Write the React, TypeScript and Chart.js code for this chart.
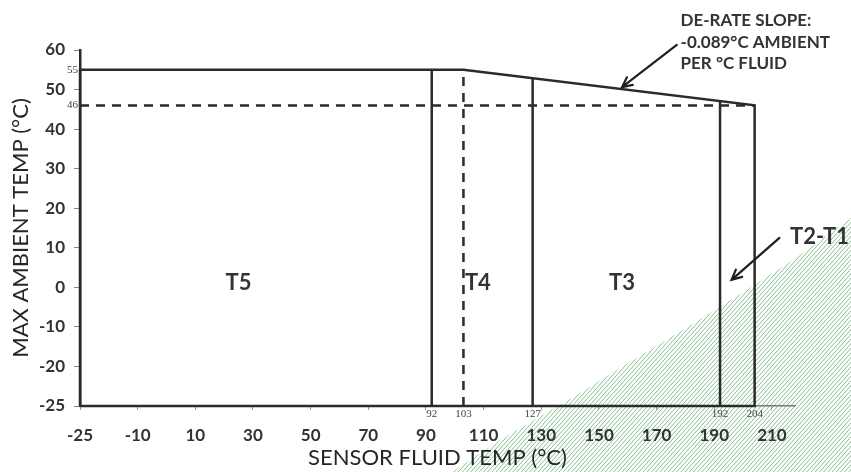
import React, { useEffect, useRef } from 'react';
import { Chart, registerables } from 'chart.js';

Chart.register(...registerables);

// ---- axes (the first tick of each axis is printed as "-25" in the source)
const X_AXIS_MIN = -30;
const X_AXIS_MAX = 218;
const Y_AXIS_MIN = -30;
const Y_AXIS_MAX = 60;
const xTickValues = [-30, -10, 10, 30, 50, 70, 90, 110, 130, 150, 170, 190, 210];
const xTickLabels = ['-25', '-10', '10', '30', '50', '70', '90', '110', '130', '150', '170', '190', '210'];
const yTickValues = [-30, -20, -10, 0, 10, 20, 30, 40, 50, 60];
const yTickLabels = ['-25', '-20', '-10', '0', '10', '20', '30', '40', '50', '60'];

// ---- envelope of the operating area
const envelopeX = [X_AXIS_MIN, X_AXIS_MIN, 103, 204, 204, X_AXIS_MIN];
const envelopeY = [Y_AXIS_MIN, 55, 55, 46, Y_AXIS_MIN, Y_AXIS_MIN];

// ---- solid class boundaries
const boundaryX = [92, 127, 192];
const boundaryTopY = [55, 52.9, 47.1];

// ---- dashed reference lines
const dashedVerticalX = 103;
const dashedVerticalTop = 55;
const dashedHorizontalY = 46;
const dashedHorizontalEnd = 204;

// ---- small marked values
const markedYValues = [55, 46];
const markedXValues = [92, 103, 127, 192, 204];

// ---- zone labels
const zoneLabels = ['T5', 'T4', 'T3', 'T2-T1'];
const zoneLabelX = [25, 108, 158, 226.5];
const zoneLabelY = [1, 1, 1, 12.7];

// ---- slope note
const noteLines = ['DE-RATE SLOPE:', '-0.089\u00B0C AMBIENT', 'PER \u00B0C FLUID'];
const noteX = 178.3;
const noteY = [67.4, 62.0, 56.6];

// ---- arrows
const arrowFromX = [177, 212.6];
const arrowFromY = [61.3, 12.5];
const arrowToX = [158, 196];
const arrowToY = [50.6, 1.9];

const FONT = 'Lato, "Open Sans", sans-serif';
const TEXT = '#333';
const LINE = '#2a2a2a';

const hatchPlugin = {
  id: 'scanHatch',
  beforeDraw(chart: any) {
    const ctx = chart.ctx;
    const W = chart.width;
    const H = chart.height;
    ctx.save();
    ctx.beginPath();
    ctx.moveTo(452, H);
    ctx.lineTo(500, 440);
    ctx.lineTo(560, 405);
    ctx.lineTo(640, 356);
    ctx.lineTo(717, 309);
    ctx.lineTo(790, 262);
    ctx.lineTo(W, 218);
    ctx.lineTo(W, H);
    ctx.closePath();
    ctx.clip();
    ctx.strokeStyle = 'rgba(60,155,75,0.7)';
    ctx.lineWidth = 0.9;
    for (let c = 400; c < W + H + 50; c += 4.2) {
      ctx.beginPath();
      ctx.moveTo(c - H * 0.9, H);
      ctx.lineTo(c - 200 * 0.9, 200);
      ctx.stroke();
    }
    ctx.restore();
  },
};

const notesPlugin = {
  id: 'notes',
  afterDatasetsDraw(chart: any) {
    const ctx = chart.ctx;
    const xs = chart.scales.x;
    const ys = chart.scales.y;
    const area = chart.chartArea;
    ctx.save();

    // small serif value marks
    ctx.fillStyle = '#444';
    ctx.font = '11px "Liberation Serif", "DejaVu Serif", serif';
    ctx.textAlign = 'right';
    ctx.textBaseline = 'middle';
    markedYValues.forEach((v) => ctx.fillText(String(v), area.left - 2, ys.getPixelForValue(v)));
    ctx.textAlign = 'center';
    ctx.textBaseline = 'top';
    markedXValues.forEach((v) => ctx.fillText(String(v), xs.getPixelForValue(v), area.bottom + 3));

    // zone labels
    ctx.fillStyle = TEXT;
    ctx.font = `bold 22px ${FONT}`;
    ctx.textAlign = 'center';
    ctx.textBaseline = 'middle';
    zoneLabels.forEach((t, i) => ctx.fillText(t, xs.getPixelForValue(zoneLabelX[i]), ys.getPixelForValue(zoneLabelY[i])));

    // note
    ctx.font = `bold 17px ${FONT}`;
    ctx.textAlign = 'left';
    noteLines.forEach((t, i) => ctx.fillText(t, xs.getPixelForValue(noteX), ys.getPixelForValue(noteY[i])));

    // arrows
    ctx.strokeStyle = '#1f1f1f';
    ctx.lineWidth = 2.2;
    ctx.lineCap = 'round';
    arrowFromX.forEach((fx, i) => {
      const x1 = xs.getPixelForValue(fx);
      const y1 = ys.getPixelForValue(arrowFromY[i]);
      const x2 = xs.getPixelForValue(arrowToX[i]);
      const y2 = ys.getPixelForValue(arrowToY[i]);
      const a = Math.atan2(y2 - y1, x2 - x1);
      const L = 11;
      ctx.beginPath();
      ctx.moveTo(x1, y1);
      ctx.lineTo(x2, y2);
      ctx.moveTo(x2 - L * Math.cos(a - 0.45), y2 - L * Math.sin(a - 0.45));
      ctx.lineTo(x2, y2);
      ctx.lineTo(x2 - L * Math.cos(a + 0.45), y2 - L * Math.sin(a + 0.45));
      ctx.stroke();
    });
    ctx.restore();
  },
};

export default function App() {
  const ref = useRef<HTMLCanvasElement>(null);

  useEffect(() => {
    const canvas = ref.current;
    if (!canvas) return;

    const envelope = envelopeX.map((x, i) => ({ x, y: envelopeY[i] }));
    const boundaries: any[] = [];
    boundaryX.forEach((x, i) => {
      boundaries.push({ x, y: Y_AXIS_MIN }, { x, y: boundaryTopY[i] }, { x, y: null });
    });
    const dashed = [
      { x: dashedVerticalX, y: Y_AXIS_MIN },
      { x: dashedVerticalX, y: dashedVerticalTop },
      { x: dashedVerticalX, y: null },
      { x: X_AXIS_MIN, y: dashedHorizontalY },
      { x: dashedHorizontalEnd, y: dashedHorizontalY },
    ];

    const chart = new Chart(canvas, {
      type: 'line',
      data: {
        datasets: [
          { data: dashed as any, borderColor: LINE, borderWidth: 2.5, borderDash: [9, 7], pointRadius: 0, spanGaps: false, clip: false as any },
          { data: boundaries, borderColor: LINE, borderWidth: 2.5, pointRadius: 0, spanGaps: false, clip: false as any },
          { data: envelope, borderColor: LINE, borderWidth: 2.5, pointRadius: 0, clip: false as any },
        ],
      },
      options: {
        animation: false,
        responsive: false,
        maintainAspectRatio: false,
        layout: { padding: { top: 50, right: 56, bottom: 0, left: 0 } },
        plugins: { legend: { display: false }, tooltip: { enabled: false } },
        elements: { line: { tension: 0 }, point: { radius: 0 } },
        scales: {
          x: {
            type: 'linear',
            min: X_AXIS_MIN,
            max: X_AXIS_MAX,
            afterBuildTicks: (s: any) => {
              s.ticks = xTickValues.map((v) => ({ value: v }));
            },
            afterFit: (s: any) => {
              s.height = 66;
            },
            ticks: {
              callback: (_v: any, i: number) => xTickLabels[i],
              font: { family: FONT, size: 17, weight: 'bold' },
              color: TEXT,
              padding: 15,
              maxRotation: 0,
              autoSkip: false,
            },
            grid: { drawOnChartArea: false, drawTicks: true, tickLength: 4, color: '#999' },
            border: { display: true, color: '#777', width: 1.5 },
            title: {
              display: true,
              text: 'SENSOR FLUID TEMP (\u00B0C)',
              font: { family: FONT, size: 22 },
              color: '#262626',
              padding: { top: 0, bottom: 1 },
            },
          },
          y: {
            type: 'linear',
            min: Y_AXIS_MIN,
            max: Y_AXIS_MAX,
            afterBuildTicks: (s: any) => {
              s.ticks = yTickValues.map((v) => ({ value: v }));
            },
            afterFit: (s: any) => {
              s.width = 80;
            },
            ticks: {
              callback: (_v: any, i: number) => yTickLabels[i],
              font: { family: FONT, size: 17, weight: 'bold' },
              color: TEXT,
              padding: 9,
              autoSkip: false,
            },
            grid: { drawOnChartArea: false, drawTicks: true, tickLength: 6, color: '#888' },
            border: { display: true, color: LINE, width: 2.5 },
            title: {
              display: true,
              text: 'MAX AMBIENT TEMP (\u00B0C)',
              font: { family: FONT, size: 22 },
              color: '#262626',
              padding: { top: 8, bottom: 0 },
            },
          },
        },
      },
      plugins: [hatchPlugin, notesPlugin],
    } as any);

    return () => chart.destroy();
  }, []);

  return (
    <div style={{ position: 'fixed', left: 0, top: 0, width: 851, height: 472, background: '#fff' }}>
      <canvas ref={ref} width={851} height={472} style={{ display: 'block' }} />
    </div>
  );
}
